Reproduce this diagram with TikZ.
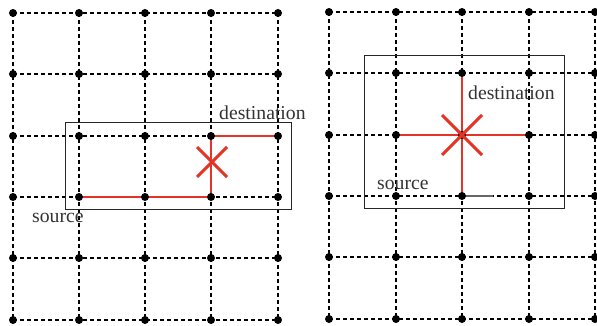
\documentclass[tikz,border=0pt]{standalone}
\usepackage{fontspec}
\setmainfont{Liberation Serif}
\usetikzlibrary{calc}
\definecolor{routered}{RGB}{228,52,38}
\begin{document}
\begin{tikzpicture}[x=1pt,y=-1pt,
  dot/.style={circle,fill=black,inner sep=0pt,minimum size=8pt},
  gridline/.style={dash pattern=on 4pt off 3pt,line width=1.2pt},
  frame/.style={draw=black!85,line width=1pt},
  route/.style={draw=routered,line width=1.3pt},
  cross/.style={draw=routered,line width=3pt},
  lbl/.style={font=\fontsize{19.7}{22}\selectfont,text=black!80,inner sep=0pt,anchor=base west}]
\useasboundingbox (0,0) rectangle (597,326);

% grid points of the two meshes
\foreach \x [count=\i] in {13,79,145,211,278}
  \foreach \y [count=\j] in {13,74,136,197,258,320}
    \coordinate (L-\i-\j) at (\x,\y);
\foreach \x [count=\i] in {329,396,462,529,595}
  \foreach \y [count=\j] in {12,73,135,196,257,319}
    \coordinate (R-\i-\j) at (\x,\y);

% dashed mesh links
\foreach \m in {L,R}{
  \foreach \j in {1,...,6}
    \draw[gridline] (\m-1-\j) -- (\m-5-\j);
  \foreach \i in {1,...,5}
    \draw[gridline] (\m-\i-1) -- (\m-\i-6);
}

% bounding regions
\draw[frame] (65,123) rectangle (291,209);
\draw[frame] (364,56) rectangle (564,208);

% left: route around the failed link
\draw[route] (L-2-4) -- (L-4-4) -- (L-4-3) -- (L-5-3);

% right: routes through the failed node
\draw[route] (R-2-3) -- (R-4-3);
\draw[route] (R-3-2) -- (R-3-4);
\coordinate (RE) at (493,196);
\draw[black!60,line width=1.2pt] (R-3-4) -- (RE);

% nodes
\foreach \m in {L,R}
  \foreach \i in {1,...,5}
    \foreach \j in {1,...,6}
      \node[dot] (\m-dot-\i-\j) at (\m-\i-\j) {};

% failure marks
\coordinate (LX) at (212,162);
\draw[cross] ($(LX)+(-15,-15)$) -- ($(LX)+(15,15)$);
\draw[cross] ($(LX)+(-15,15)$) -- ($(LX)+(15,-15)$);
\draw[cross] ($(R-3-3)+(-20,-20)$) -- ($(R-3-3)+(20,20)$);
\draw[cross] ($(R-3-3)+(-20,20)$) -- ($(R-3-3)+(20,-20)$);

% labels
\node[lbl] (ldest) at (219,119.5) {destination};
\node[lbl] (lsrc) at (32,222.5) {source};
\node[lbl] (rdest) at (468,100) {destination};
\node[lbl] (rsrc) at (377,189.5) {source};
\end{tikzpicture}
\end{document}
